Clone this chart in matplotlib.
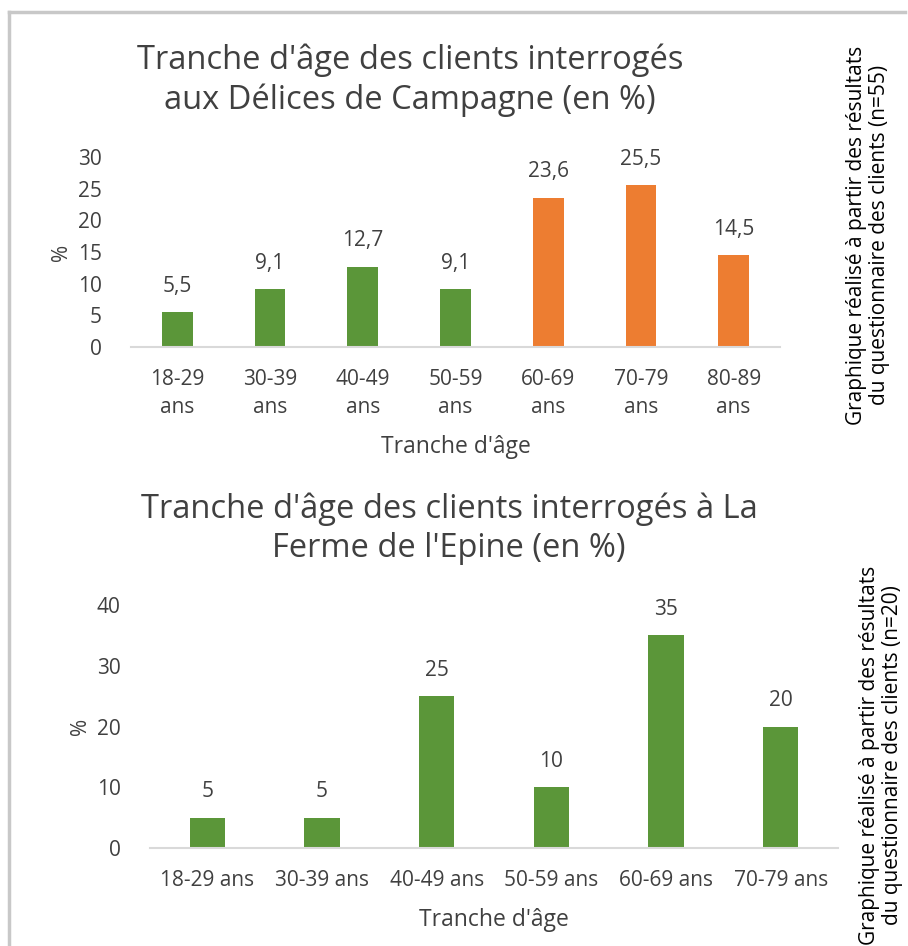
import matplotlib.pyplot as plt
from matplotlib.lines import Line2D

plt.rcParams['font.family'] = ['Open Sans', 'DejaVu Sans']

# chart 1 : Délices de Campagne
ages_1 = ['18-29\nans', '30-39\nans', '40-49\nans', '50-59\nans',
          '60-69\nans', '70-79\nans', '80-89\nans']
pct_1 = [5.5, 9.1, 12.7, 9.1, 23.6, 25.5, 14.5]
labels_1 = ['5,5', '9,1', '12,7', '9,1', '23,6', '25,5', '14,5']
colors_1 = ['#5b9639'] * 4 + ['#ed7d31'] * 3

# chart 2 : La Ferme de l'Epine
ages_2 = ['18-29 ans', '30-39 ans', '40-49 ans', '50-59 ans', '60-69 ans', '70-79 ans']
pct_2 = [5, 5, 25, 10, 35, 20]
labels_2 = ['5', '5', '25', '10', '35', '20']

W, H = 908, 946
fig = plt.figure(figsize=(W / 100, H / 100), dpi=100)
TXT = '#404040'


def box(x0, y0, x1, y1):
    # pixel box (top-left origin) -> figure fraction
    return [x0 / W, 1 - y1 / H, (x1 - x0) / W, (y1 - y0) / H]


def draw(ax, cats, vals, labs, cols, ymax, step, width):
    x = range(len(cats))
    ax.bar(x, vals, width=width, color=cols, zorder=2)
    for xi, v, t in zip(x, vals, labs):
        ax.annotate(t, (xi, v), xytext=(0, 11), textcoords='offset points',
                    ha='center', va='bottom', fontsize=15, color=TXT,
                    annotation_clip=False)
    ax.set_xlim(-0.5, len(cats) - 0.5)
    ax.set_ylim(0, ymax)
    ax.set_yticks(range(0, ymax + 1, step))
    ax.set_xticks(list(x))
    ax.set_xticklabels(cats, fontsize=15, color=TXT, linespacing=1.45)
    ax.tick_params(axis='y', length=0, pad=21, labelsize=15, labelcolor=TXT)
    ax.tick_params(axis='x', length=0, pad=16)
    for s in ['top', 'right', 'left']:
        ax.spines[s].set_visible(False)
    ax.spines['bottom'].set_color('#d9d9d9')
    ax.spines['bottom'].set_linewidth(1.5)
    ax.set_xlabel("Tranche d'âge", fontsize=16.5, color=TXT, labelpad=12)
    ax.set_ylabel('%', fontsize=15, color=TXT, labelpad=4)


ax1 = fig.add_axes(box(131, 157, 780, 347))
draw(ax1, ages_1, pct_1, labels_1, colors_1, 30, 5, 0.33)
fig.text(410 / W, 1 - 80 / H,
         "Tranche d'âge des clients interrogés\naux Délices de Campagne (en %)",
         ha='center', va='center', fontsize=23.5, color=TXT, linespacing=1.25)

ax2 = fig.add_axes(box(150, 605, 838, 848))
draw(ax2, ages_2, pct_2, labels_2, ['#5b9639'] * 6, 40, 10, 0.31)
fig.text(449 / W, 1 - 529 / H,
         "Tranche d'âge des clients interrogés à La\nFerme de l'Epine (en %)",
         ha='center', va='center', fontsize=23.5, color=TXT, linespacing=1.25)

fig.text(868 / W, 1 - 235 / H,
         'Graphique réalisé à partir des résultats\ndu questionnaire des clients (n=55)',
         rotation=90, ha='center', va='center', fontsize=15, color='black',
         linespacing=1.15)
fig.text(881 / W, 1 - 755 / H,
         'Graphique réalisé à partir des résultats\ndu questionnaire des clients (n=20)',
         rotation=90, ha='center', va='center', fontsize=15, color='black',
         linespacing=1.15)

# grey frame around the top chart
fig.add_artist(Line2D([8.5 / W, 8.5 / W], [0, 1 - 12 / H], color='#c8c8c8', lw=2.5))
fig.add_artist(Line2D([8.5 / W, 905 / W], [1 - 12 / H, 1 - 12 / H], color='#c8c8c8', lw=2.5))

fig.savefig('out.png', dpi=100)
